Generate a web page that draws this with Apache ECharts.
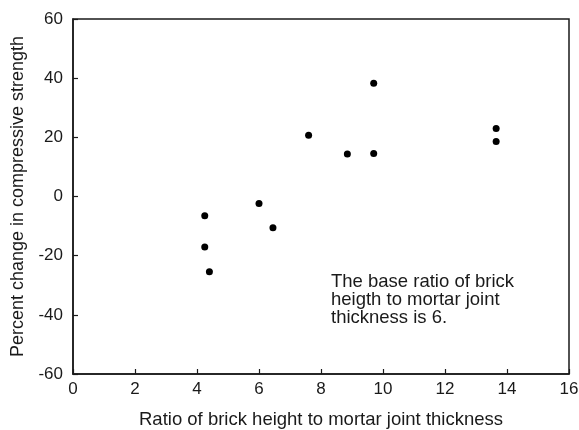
<!DOCTYPE html>
<html>
<head>
<meta charset="utf-8">
<script src="https://cdn.jsdelivr.net/npm/echarts@6/dist/echarts.min.js"></script>
<style>
html,body{margin:0;padding:0;background:#fff;}
#chart{width:579px;height:430px;}
</style>
</head>
<body>
<div id="chart"></div>
<script>
var ratioValues = [4.25, 4.25, 4.4, 6.0, 6.45, 7.6, 8.85, 9.7, 9.7, 13.65, 13.65];
var strengthChange = [-6.5, -17.1, -25.4, -2.4, -10.6, 20.7, 14.4, 38.3, 14.5, 23.0, 18.6];
var xTicks = [0, 2, 4, 6, 8, 10, 12, 14, 16];
var yTicks = [-60, -40, -20, 0, 20, 40, 60];
var xAxisTitle = 'Ratio of brick height to mortar joint thickness';
var yAxisTitle = 'Percent change in compressive strength';
var noteText = 'The base ratio of brick\nheigth to mortar joint\nthickness is 6.';

var points = ratioValues.map(function (x, i) { return [x, strengthChange[i]]; });
var font = 'Liberation Sans, Arial, Helvetica, sans-serif';

var chart = echarts.init(document.getElementById('chart'));
chart.setOption({
  animation: false,
  backgroundColor: '#fff',
  grid: { left: 73, right: 10, top: 19, bottom: 56, containLabel: false, outerBoundsMode: 'none', show: true, borderColor: '#1a1a1a', borderWidth: 1.5, backgroundColor: 'transparent' },
  xAxis: {
    type: 'value', min: xTicks[0], max: xTicks[xTicks.length - 1], interval: 2,
    name: xAxisTitle, nameLocation: 'middle', nameGap: 36,
    nameTextStyle: { color: '#1a1a1a', fontSize: 18.5, fontFamily: font },
    axisLine: { show: true, onZero: false, lineStyle: { color: '#1a1a1a', width: 1.5 } },
    axisTick: { show: true, inside: true, length: 5, lineStyle: { color: '#1a1a1a', width: 1.2 } },
    axisLabel: { color: '#1a1a1a', fontSize: 17, fontFamily: font, margin: 7 },
    splitLine: { show: false }
  },
  yAxis: {
    type: 'value', min: yTicks[0], max: yTicks[yTicks.length - 1], interval: 20,
    name: yAxisTitle, nameLocation: 'middle', nameGap: 44, nameRotate: 90,
    nameTextStyle: { color: '#1a1a1a', fontSize: 18, fontFamily: font },
    axisLine: { show: true, onZero: false, lineStyle: { color: '#1a1a1a', width: 1.5 } },
    axisTick: { show: true, inside: true, length: 5, lineStyle: { color: '#1a1a1a', width: 1.2 } },
    axisLabel: { color: '#1a1a1a', fontSize: 17, fontFamily: font, margin: 10 },
    splitLine: { show: false }
  },
  graphic: [{
    type: 'text', left: 331, top: 272,
    style: { text: noteText, fill: '#1a1a1a', font: '18.5px ' + font, lineHeight: 18 }
  }],
  series: [{
    type: 'scatter',
    data: points,
    symbol: 'circle',
    symbolSize: 7,
    itemStyle: { color: '#000', opacity: 1 }
  }]
});
</script>
</body>
</html>
